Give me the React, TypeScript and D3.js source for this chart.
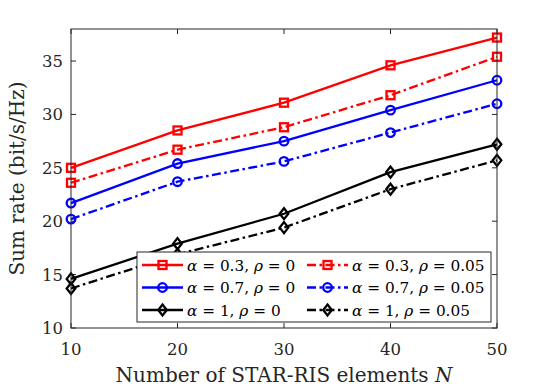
import React from 'react';
import * as d3 from 'd3';

// number of STAR-RIS elements
const N = [10, 20, 30, 40, 50];

// sum rate (bit/s/Hz)
const alpha03rho0 = [25.0, 28.5, 31.1, 34.6, 37.2];
const alpha03rho005 = [23.6, 26.7, 28.8, 31.8, 35.4];
const alpha07rho0 = [21.7, 25.4, 27.5, 30.4, 33.2];
const alpha07rho005 = [20.2, 23.7, 25.6, 28.3, 31.0];
const alpha1rho0 = [14.6, 17.9, 20.7, 24.6, 27.2];
const alpha1rho005 = [13.7, 16.9, 19.4, 23.0, 25.7];

const xTicks = [10, 20, 30, 40, 50];
const yTicks = [10, 15, 20, 25, 30, 35];

const alphaLabels = ['0.3', '0.3', '0.7', '0.7', '1', '1'];
const rhoLabels = ['0', '0.05', '0', '0.05', '0', '0.05'];

const W = 548;
const H = 392;
const margin = { top: 29, right: 51, bottom: 64, left: 71 };
const FONT = '"DejaVu Serif", "Liberation Serif", serif';
const AXC = '#262626';
const DASHDOT = '9,3.5,2.5,3.5';
const LW = 2.3;

type Series = { values: number[]; color: string; marker: 'square' | 'circle' | 'diamond'; dashed: boolean };

const series: Series[] = [
  { values: alpha03rho0, color: '#ff0000', marker: 'square', dashed: false },
  { values: alpha03rho005, color: '#ff0000', marker: 'square', dashed: true },
  { values: alpha07rho0, color: '#0000ff', marker: 'circle', dashed: false },
  { values: alpha07rho005, color: '#0000ff', marker: 'circle', dashed: true },
  { values: alpha1rho0, color: '#000000', marker: 'diamond', dashed: false },
  { values: alpha1rho005, color: '#000000', marker: 'diamond', dashed: true },
];

const Marker = ({ kind, x, y, color }: { kind: string; x: number; y: number; color: string }) => {
  if (kind === 'square') {
    return <rect x={x - 4} y={y - 4} width={8} height={8} fill="none" stroke={color} strokeWidth={LW} />;
  }
  if (kind === 'circle') {
    return <circle cx={x} cy={y} r={4.3} fill="none" stroke={color} strokeWidth={LW} />;
  }
  return (
    <path
      d={`M${x},${y - 5.5}L${x + 4.3},${y}L${x},${y + 5.5}L${x - 4.3},${y}Z`}
      fill="none"
      stroke={color}
      strokeWidth={LW}
    />
  );
};

const App = () => {
  const iw = W - margin.left - margin.right;
  const ih = H - margin.top - margin.bottom;

  const x = d3.scaleLinear().domain([10, 50]).range([0, iw]);
  const y = d3.scaleLinear().domain([10, 38]).range([ih, 0]);

  const line = d3
    .line<number>()
    .x((_, i) => x(N[i]))
    .y((d) => y(d));

  // legend layout
  const lg = { x: 137 - margin.left, y: 252 - margin.top, w: 354, h: 70 };
  const rowY = [13, 35.5, 58];
  const colX = [5, 170];

  return (
    <>
      <style>{'body{margin:0}'}</style>
      <svg width={W} height={H} style={{ display: 'block', background: '#fff' }} fontFamily={FONT}>
        <g transform={`translate(${margin.left},${margin.top})`}>
          <rect x={0} y={0} width={iw} height={ih} fill="#fff" />

          {/* ticks, inside, on all four sides */}
          {xTicks.map((t) => (
            <g key={'xt' + t}>
              <line x1={x(t)} x2={x(t)} y1={ih} y2={ih - 5} stroke={AXC} />
              <line x1={x(t)} x2={x(t)} y1={0} y2={5} stroke={AXC} />
              <text x={x(t)} y={ih + 27} textAnchor="middle" fontSize={16.5} fill={AXC}>
                {t}
              </text>
            </g>
          ))}
          {yTicks.map((t) => (
            <g key={'yt' + t}>
              <line x1={0} x2={5} y1={y(t)} y2={y(t)} stroke={AXC} />
              <line x1={iw} x2={iw - 5} y1={y(t)} y2={y(t)} stroke={AXC} />
              <text x={-8} y={y(t) + 6} textAnchor="end" fontSize={16.5} fill={AXC}>
                {t}
              </text>
            </g>
          ))}

          {/* data */}
          {series.map((s, k) => (
            <g key={'s' + k}>
              <path
                d={line(s.values) || ''}
                fill="none"
                stroke={s.color}
                strokeWidth={LW}
                strokeDasharray={s.dashed ? DASHDOT : undefined}
              />
              {s.values.map((v, i) => (
                <Marker key={i} kind={s.marker} x={x(N[i])} y={y(v)} color={s.color} />
              ))}
            </g>
          ))}

          <rect x={0} y={0} width={iw} height={ih} fill="none" stroke={AXC} strokeWidth={1} />

          {/* legend */}
          <g transform={`translate(${lg.x},${lg.y})`}>
            <rect x={0} y={0} width={lg.w} height={lg.h} fill="#fff" stroke={AXC} strokeWidth={1} />
            {series.map((s, k) => {
              const col = k % 2;
              const row = Math.floor(k / 2);
              const cx = colX[col];
              const cy = rowY[row];
              return (
                <g key={'lg' + k}>
                  <line
                    x1={cx}
                    x2={cx + 41}
                    y1={cy}
                    y2={cy}
                    stroke={s.color}
                    strokeWidth={LW}
                    strokeDasharray={s.dashed ? DASHDOT : undefined}
                  />
                  <Marker kind={s.marker} x={cx + 20.5} y={cy} color={s.color} />
                  <text x={cx + 45} y={cy + 5.5} fontSize={15.3} fill="#000">
                    <tspan fontStyle="italic">α</tspan>
                    {' = ' + alphaLabels[k] + ', '}
                    <tspan fontStyle="italic">ρ</tspan>
                    {' = ' + rhoLabels[k]}
                  </text>
                </g>
              );
            })}
          </g>
        </g>

        {/* axis labels */}
        <text x={margin.left + iw / 2} y={382} textAnchor="middle" fontSize={20} fill={AXC}>
          Number of STAR-RIS elements <tspan fontStyle="italic">N</tspan>
        </text>
        <text
          transform={`translate(24,${margin.top + ih / 2}) rotate(-90)`}
          textAnchor="middle"
          fontSize={20}
          fill={AXC}
        >
          Sum rate (bit/s/Hz)
        </text>
      </svg>
    </>
  );
};

export default App;
